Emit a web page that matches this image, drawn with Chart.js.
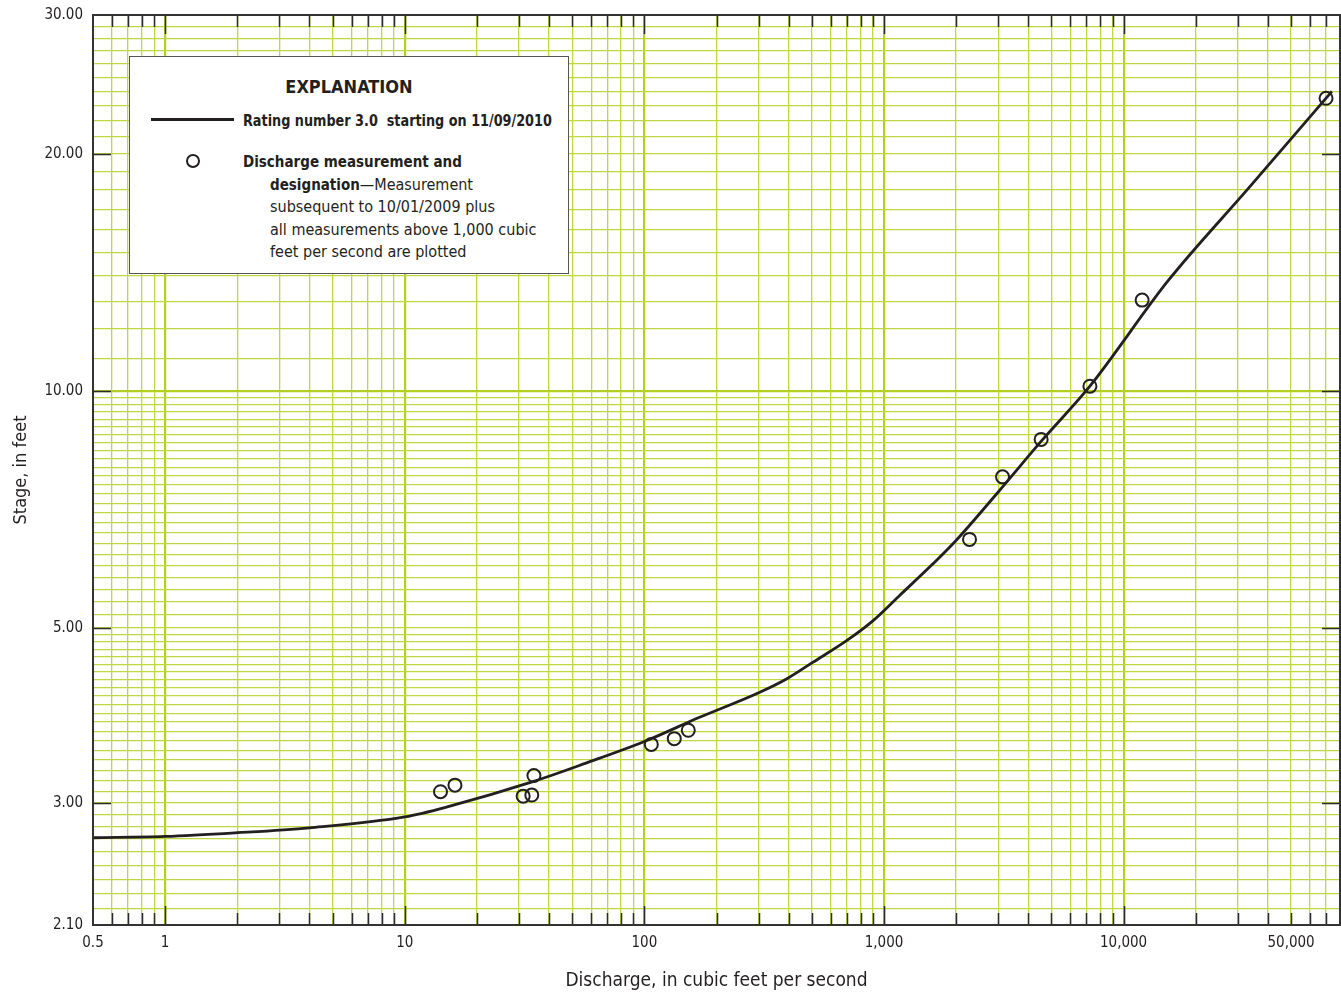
<!DOCTYPE html>
<html>
<head>
<meta charset="utf-8">
<script src="https://cdn.jsdelivr.net/npm/chart.js@4.4.1/dist/chart.umd.min.js"></script>
<style>
  body { margin: 0; background: #fff; }
  #wrap { position: relative; width: 1341px; height: 993px; }
  #legend {
    position: absolute; left: 129px; top: 56px; width: 440px; height: 218px;
    box-sizing: border-box; border: 1px solid #555; background: #fff; color: #231f20;
    font-family: "Liberation Sans Narrow", "DejaVu Sans Condensed", "Roboto Condensed", Roboto, sans-serif;
  }
  #legend div { position: absolute; white-space: nowrap; }
  #legend .title { left: 0; width: 100%; text-align: center; top: 19px; line-height: 22px; font-size: 18px; font-weight: bold; }
  #legend .sample-line { left: 21px; top: 61px; width: 83px; height: 3px; background: #231f20; }
  #legend .sample-dot { left: 56px; top: 97px; width: 14px; height: 14px; box-sizing: border-box; border: 2px solid #231f20; border-radius: 50%; }
  #legend .rating { left: 113px; top: 53px; line-height: 22px; font-size: 15px; font-weight: bold; transform: scaleX(0.95); transform-origin: left center; }
  #legend .meas { left: 113px; top: 94px; line-height: 22.5px; font-size: 16px; }
  #legend .meas .indent { padding-left: 27px; }
  #legend .meas b.lead { display: inline-block; font-size: 15px; }
</style>
</head>
<body>
<div id="wrap">
  <canvas id="rating" width="1341" height="993"></canvas>
  <div id="legend">
    <div class="title">EXPLANATION</div>
    <div class="sample-line"></div>
    <div class="rating">Rating number 3.0&nbsp; starting on 11/09/2010</div>
    <div class="sample-dot"></div>
    <div class="meas"><b class="lead">Discharge measurement and</b><br>
      <span class="indent"><b class="lead">designation</b>—Measurement</span><br>
      <span class="indent">subsequent to 10/01/2009 plus</span><br>
      <span class="indent">all measurements above 1,000 cubic</span><br>
      <span class="indent">feet per second are plotted</span>
    </div>
  </div>
</div>
<script>
// Rating curve 3.0 — stage vs discharge, log-log

const FONT = '"Liberation Sans Narrow", "DejaVu Sans Condensed", "Roboto Condensed", Roboto, sans-serif';
const INK = '#231f20';

// rating curve
const ratingDischarge = [0.5, 1, 2, 4, 10, 15.3, 34, 57, 100, 169, 300, 397, 502, 698, 893, 1154, 1589, 1990, 3016, 4571, 7234, 15336, 33300, 74000];
const ratingStage     = [2.71, 2.72, 2.75, 2.79, 2.88, 2.97, 3.19, 3.37, 3.59, 3.85, 4.14, 4.32, 4.52, 4.82, 5.10, 5.49, 6.02, 6.45, 7.46, 8.66, 10.14, 13.80, 18.10, 24.0];

// discharge measurements
const measDischarge = [14.1, 16.2, 31.2, 33.9, 34.6, 106.9, 133.3, 152.5, 2275, 3124, 4528, 7234, 11950, 69960];
const measStage     = [3.10, 3.16, 3.06, 3.07, 3.25, 3.56, 3.62, 3.71, 6.48, 7.78, 8.68, 10.14, 13.04, 23.52];

// axes
const xLabelValues = [0.5, 1, 10, 100, 1000, 10000, 50000];
const yLabelValues = [2.1, 3, 5, 10, 20, 30];
const xGridValues = [
  0.5, 0.6, 0.7, 0.8, 0.9,
  1, 2, 3, 4, 5, 6, 7, 8, 9,
  10, 20, 30, 40, 50, 60, 70, 80, 90,
  100, 200, 300, 400, 500, 600, 700, 800, 900,
  1000, 2000, 3000, 4000, 5000, 6000, 7000, 8000, 9000,
  10000, 20000, 30000, 40000, 50000, 60000, 70000, 80000,
];
// [from, to, step] for the stage grid
const yGridRanges = [[2.1, 3.0, 0.1], [3.0, 5.0, 0.1], [5.0, 10, 0.2], [10, 30, 1]];

const yGridValues = [];
for (const [from, to, step] of yGridRanges) {
  const n = Math.round((to - from) / step);
  for (let i = 0; i <= n; i++) {
    const v = +(from + i * step).toFixed(2);
    if (!yGridValues.includes(v)) yGridValues.push(v);
  }
}

const isDecade = (v) => Math.abs(Math.log10(v) - Math.round(Math.log10(v))) < 1e-9;
const near = (a, b) => Math.abs(a - b) < 1e-6;

function gridColor(v, axis) {
  if (axis === 'x' ? isDecade(v) : near(v, 10)) return '#b4cf24';
  return '#c0d840';
}

// frame + inward tick marks
const frameTicksPlugin = {
  id: 'frameTicks',
  afterDraw(chart) {
    const { ctx, chartArea, scales } = chart;
    const { left, right, top, bottom } = chartArea;
    ctx.save();
    ctx.strokeStyle = '#2b2b2b';
    ctx.lineWidth = 1.5;
    ctx.beginPath();
    for (const v of xGridValues) {
      if (near(v, 0.5) || near(v, 80000)) continue;
      const px = Math.round(scales.x.getPixelForValue(v)) + 0.5;
      const len = isDecade(v) ? 19 : 12;
      ctx.moveTo(px, bottom); ctx.lineTo(px, bottom - len);
      ctx.moveTo(px, top); ctx.lineTo(px, top + len);
    }
    for (const v of yLabelValues) {
      if (near(v, 2.1) || near(v, 30)) continue;
      const py = Math.round(scales.y.getPixelForValue(v)) + 0.5;
      ctx.moveTo(left, py); ctx.lineTo(left + 18, py);
      ctx.moveTo(right, py); ctx.lineTo(right - 18, py);
    }
    ctx.stroke();
    ctx.lineWidth = 2;
    ctx.strokeStyle = '#333';
    ctx.strokeRect(left, top, right - left, bottom - top);
    ctx.restore();
  },
};

new Chart(document.getElementById('rating').getContext('2d'), {
  type: 'scatter',
  plugins: [frameTicksPlugin],
  data: {
    datasets: [
      {
        label: 'Rating number 3.0 starting on 11/09/2010',
        data: ratingDischarge.map((q, i) => ({ x: q, y: ratingStage[i] })),
        showLine: true,
        borderColor: INK,
        borderWidth: 2.8,
        pointRadius: 0,
        cubicInterpolationMode: 'monotone',
      },
      {
        label: 'Discharge measurement and designation',
        data: measDischarge.map((q, i) => ({ x: q, y: measStage[i] })),
        pointRadius: 6.5,
        pointBorderWidth: 2,
        pointBorderColor: INK,
        pointBackgroundColor: 'rgba(0,0,0,0)',
      },
    ],
  },
  options: {
    responsive: false,
    animation: false,
    events: [],
    // no extra room for point overflow: the frame must end at x=1340
    layout: { autoPadding: false, padding: { top: 15, right: 1, left: 0, bottom: 0 } },
    plugins: { legend: { display: false }, tooltip: { enabled: false } },
    scales: {
      x: {
        type: 'logarithmic',
        min: 0.5,
        max: 80000,
        afterBuildTicks: (scale) => { scale.ticks = xGridValues.map((v) => ({ value: v })); },
        afterFit: (scale) => { scale.height = 68; scale.paddingLeft = 0; scale.paddingRight = 0; },
        ticks: {
          autoSkip: false,
          maxRotation: 0,
          padding: 9,
          color: INK,
          font: { family: FONT, size: 15 },
          callback: (v) => (xLabelValues.some((l) => near(l, v)) ? v.toLocaleString('en-US') : ''),
        },
        grid: {
          drawTicks: false,
          color: (c) => gridColor(c.tick.value, 'x'),
          lineWidth: (c) => (isDecade(c.tick.value) ? 2.2 : 1.3),
        },
        border: { display: false },
        title: {
          display: true,
          text: 'Discharge, in cubic feet per second',
          color: INK,
          font: { family: FONT, size: 19 },
          padding: { top: 0, bottom: 1 },
        },
      },
      y: {
        type: 'logarithmic',
        min: 2.1,
        max: 30,
        afterBuildTicks: (scale) => { scale.ticks = yGridValues.map((v) => ({ value: v })); },
        afterFit: (scale) => { scale.width = 93; scale.paddingTop = 0; scale.paddingBottom = 0; },
        ticks: {
          autoSkip: false,
          padding: 10,
          color: INK,
          font: { family: FONT, size: 15 },
          callback: (v) => (yLabelValues.some((l) => near(l, v)) ? v.toFixed(2) : ''),
        },
        grid: {
          drawTicks: false,
          color: (c) => gridColor(c.tick.value, 'y'),
          lineWidth: (c) => (near(c.tick.value, 10) ? 2.2 : 1.3),
        },
        border: { display: false },
        title: {
          display: true,
          text: 'Stage, in feet',
          color: INK,
          font: { family: FONT, size: 18 },
          padding: { top: 11, bottom: 0 },
        },
      },
    },
  },
});
</script>
</body>
</html>
